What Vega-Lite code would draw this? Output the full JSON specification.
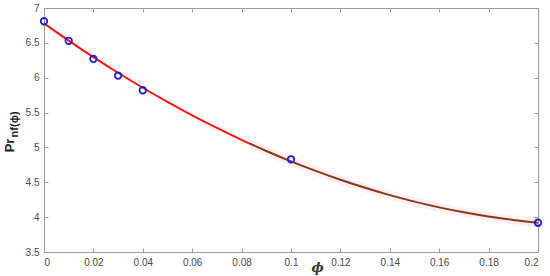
{
  "$schema": "https://vega.github.io/schema/vega-lite/v6.json",
  "width": 494,
  "height": 244,
  "autosize": "none",
  "padding": {"left": 44, "top": 8, "right": 12, "bottom": 24},
  "background": "white",
  "config": {
    "view": {"stroke": "#9a9a9a", "strokeWidth": 1},
    "axis": {
      "grid": false,
      "domainColor": "#9a9a9a",
      "tickColor": "#9a9a9a",
      "tickSize": -4,
      "labelFont": "Liberation Sans",
      "labelFontSize": 10,
      "labelColor": "#4a4a4a",
      "labelPadding": 9,
      "titleFont": "Liberation Sans"
    }
  },
  "datasets": {
    "pts": [
      {"phi": 0, "pr": 6.81},
      {"phi": 0.01, "pr": 6.53},
      {"phi": 0.02, "pr": 6.27},
      {"phi": 0.03, "pr": 6.03},
      {"phi": 0.04, "pr": 5.82},
      {"phi": 0.1, "pr": 4.83},
      {"phi": 0.2, "pr": 3.92}
    ],
    "fit": [
      {"phi": 0, "pr": 6.78, "seg": "a"},
      {"phi": 0.01, "pr": 6.533, "seg": "a"},
      {"phi": 0.02, "pr": 6.296, "seg": "a"},
      {"phi": 0.03, "pr": 6.071, "seg": "a"},
      {"phi": 0.04, "pr": 5.856, "seg": "a"},
      {"phi": 0.05, "pr": 5.653, "seg": "a"},
      {"phi": 0.06, "pr": 5.46, "seg": "a"},
      {"phi": 0.07, "pr": 5.279, "seg": "a"},
      {"phi": 0.08, "pr": 5.108, "seg": "a"},
      {"phi": 0.083, "pr": 5.059, "seg": "a"},
      {"phi": 0.083, "pr": 5.059, "seg": "b"},
      {"phi": 0.09, "pr": 4.949, "seg": "b"},
      {"phi": 0.1, "pr": 4.8, "seg": "b"},
      {"phi": 0.11, "pr": 4.663, "seg": "b"},
      {"phi": 0.12, "pr": 4.536, "seg": "b"},
      {"phi": 0.13, "pr": 4.421, "seg": "b"},
      {"phi": 0.14, "pr": 4.316, "seg": "b"},
      {"phi": 0.15, "pr": 4.223, "seg": "b"},
      {"phi": 0.16, "pr": 4.14, "seg": "b"},
      {"phi": 0.17, "pr": 4.069, "seg": "b"},
      {"phi": 0.18, "pr": 4.008, "seg": "b"},
      {"phi": 0.19, "pr": 3.959, "seg": "b"},
      {"phi": 0.2, "pr": 3.92, "seg": "b"}
    ],
    "lab": [
      {"phi": -0.0118, "pr": 5.33, "t": "nf(ϕ)"}
    ]
  },
  "resolve": {"axis": {"x": "independent", "y": "independent"}},
  "layer": [
    {
      "data": {"name": "fit"},
      "transform": [{"filter": "datum.seg == 'b'"}],
      "mark": {"type": "line", "color": "#fdeef8", "strokeWidth": 9, "interpolate": "monotone"},
      "encoding": {
        "x": {"field": "phi", "type": "quantitative", "scale": {"domain": [0, 0.2], "nice": false},
          "axis": {"orient": "bottom", "values": [0, 0.02, 0.04, 0.06, 0.08, 0.1, 0.12, 0.14, 0.16, 0.18, 0.2], "format": "~f",
            "title": "ϕ", "titleFont": "DejaVu Serif", "titleFontStyle": "italic", "titleFontWeight": "bold", "titleFontSize": 13, "titleColor": "#333",
            "titleX": 273, "titleY": 15, "titleBaseline": "middle", "titleAlign": "center"}},
        "y": {"field": "pr", "type": "quantitative", "scale": {"domain": [3.5, 7], "nice": false, "zero": false},
          "axis": {"orient": "left", "values": [3.5, 4, 4.5, 5, 5.5, 6, 6.5, 7], "format": "~f",
            "title": "Pr", "titleFontWeight": "bold", "titleFontSize": 13, "titleColor": "#222", "titleAngle": 270,
            "titleX": -35, "titleY": 137, "titleBaseline": "middle", "titleAlign": "center"}}
      }
    },
    {
      "data": {"name": "fit"},
      "mark": {"type": "line", "strokeWidth": 2, "interpolate": "monotone"},
      "encoding": {
        "x": {"field": "phi", "type": "quantitative",
          "axis": {"orient": "top", "values": [0, 0.02, 0.04, 0.06, 0.08, 0.1, 0.12, 0.14, 0.16, 0.18, 0.2], "labels": false, "title": null}},
        "y": {"field": "pr", "type": "quantitative",
          "axis": {"orient": "right", "values": [3.5, 4, 4.5, 5, 5.5, 6, 6.5, 7], "labels": false, "title": null}},
        "detail": {"field": "seg"},
        "color": {"field": "seg", "type": "nominal", "scale": {"domain": ["a", "b"], "range": ["#ff1010", "#8a3a12"]}, "legend": null}
      }
    },
    {
      "data": {"name": "pts"},
      "mark": {"type": "point", "shape": "circle", "filled": false, "size": 42, "strokeWidth": 1.8, "color": "#1c1cd6", "opacity": 1},
      "encoding": {
        "x": {"field": "phi", "type": "quantitative", "axis": null},
        "y": {"field": "pr", "type": "quantitative", "axis": null}
      }
    },
    {
      "data": {"name": "lab"},
      "mark": {"type": "text", "angle": 270, "align": "center", "baseline": "middle", "font": "Liberation Sans", "fontWeight": "bold", "fontSize": 11, "color": "#222", "clip": false},
      "encoding": {
        "x": {"field": "phi", "type": "quantitative", "axis": null},
        "y": {"field": "pr", "type": "quantitative", "axis": null},
        "text": {"field": "t"}
      }
    }
  ]
}
